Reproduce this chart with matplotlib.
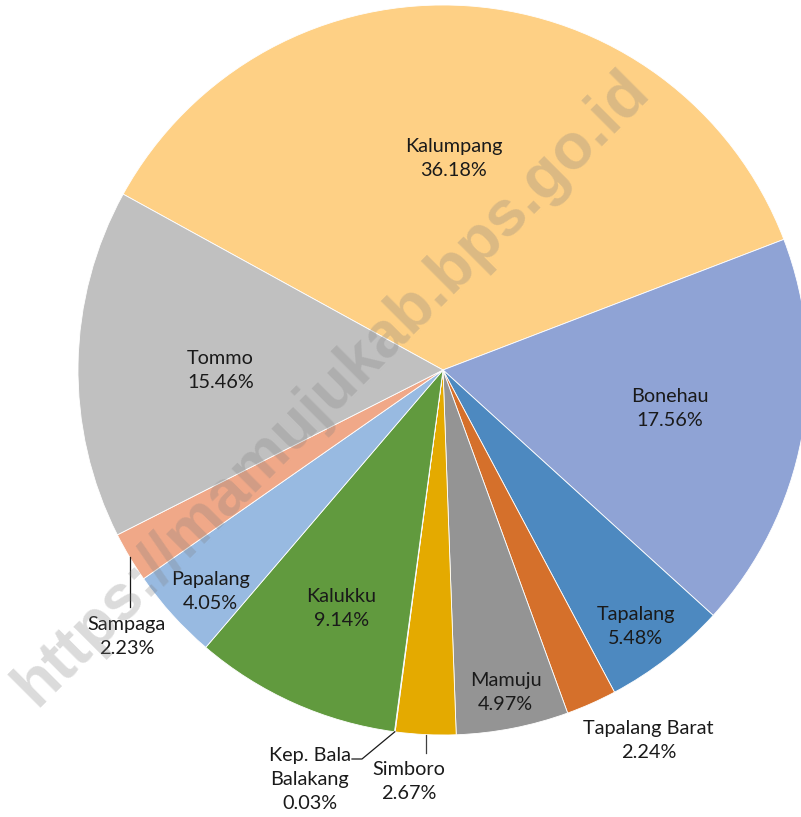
import numpy as np
import matplotlib
matplotlib.use("Agg")
import matplotlib.pyplot as plt

# data (clockwise from Kalumpang)
districts = ["Kalumpang", "Bonehau", "Tapalang", "Tapalang Barat", "Mamuju",
             "Simboro", "Kep. Bala\nBalakang", "Kalukku", "Papalang",
             "Sampaga", "Tommo"]
shares = [36.18, 17.56, 5.48, 2.24, 4.97, 2.67, 0.03, 9.14, 4.05, 2.23, 15.46]
colors = ["#FED085", "#8FA3D5", "#4D89C0", "#D5702B", "#949494", "#E4AA00",
          "#2E4D86", "#619A3E", "#98BAE1", "#F0A888", "#C0C0C0"]

# label placement: (radius factor, angle shift in degrees) from wedge middle
label_pos = [(0.58, 1), (0.63, 1), (0.88, -1), (1.16, 5), (0.90, 0),
             (1.13, -2), (1.18, -10.4), (0.71, 1), (0.88, 1.5), (1.134, 9.2), (0.61, 1)]

W, H = 801, 817
CX, CY, R = 443, 370, 365

plt.rcParams["font.family"] = ["Lato", "DejaVu Sans"]

fig = plt.figure(figsize=(W / 100, H / 100), dpi=100)
ax = fig.add_axes([0, 0, 1, 1])

wedges, _ = ax.pie(shares, colors=colors, startangle=151.2, counterclock=False,
                   radius=1, center=(0, 0),
                   wedgeprops=dict(edgecolor="white", linewidth=0.6))

ax.set_xlim(-CX / R, (W - CX) / R)
ax.set_ylim(-(H - CY) / R, CY / R)
ax.set_aspect("equal")
ax.axis("off")


def px(x, y):
    # pixel position of the reference -> data units
    return (x - CX) / R, (CY - y) / R


for w, name, val, (rf, dang) in zip(wedges, districts, shares, label_pos):
    mid = np.deg2rad((w.theta1 + w.theta2) / 2 + dang)
    ax.text(rf * np.cos(mid), rf * np.sin(mid), f"{name}\n{val:.2f}%",
            ha="center", va="center", fontsize=14.3, linespacing=1.5,
            color="#1a1a1a", zorder=5)

# leader lines
def edge(i):
    m = np.deg2rad((wedges[i].theta1 + wedges[i].theta2) / 2)
    return np.cos(m), np.sin(m)

ex, ey = edge(9)      # Sampaga
ax.plot([ex, ex], [ey, px(0, 607)[1]], color="#1a1a1a", lw=0.9)
ex, ey = edge(5)      # Simboro
ax.plot([ex, ex], [ey, px(0, 753)[1]], color="#404040", lw=0.9)
ex, ey = edge(6)      # Kep. Bala Balakang
k1, k2 = px(362, 759), px(352, 759)
ax.plot([ex, k1[0], k2[0]], [ey, k1[1], k2[1]], color="#1a1a1a", lw=0.9)

# watermark
wx, wy = px(332, 388)
ax.text(wx, wy, "https://mamujukab.bps.go.id", rotation=45,
        ha="center", va="center", fontsize=46, fontweight="bold",
        family=["Liberation Sans", "DejaVu Sans"], color="#7f7f7f",
        alpha=0.28, zorder=6)

fig.savefig("out.png", dpi=100)
